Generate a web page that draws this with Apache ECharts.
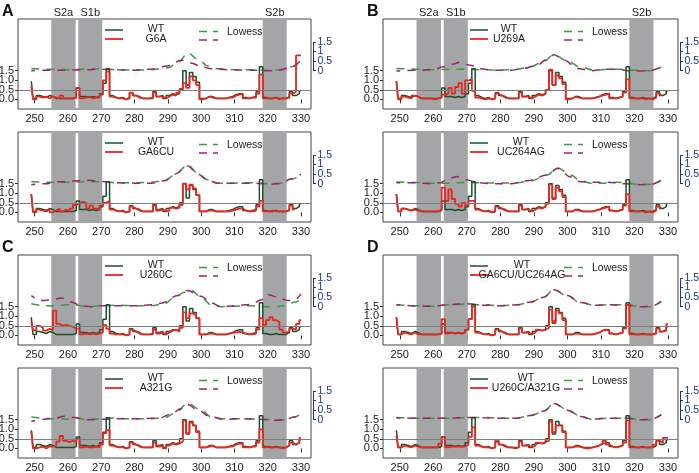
<!DOCTYPE html>
<html><head><meta charset="utf-8">
<script src="https://cdn.jsdelivr.net/npm/echarts@6/dist/echarts.min.js"></script>
<style>html,body{margin:0;padding:0;background:#fff}#c{width:699px;height:473px}</style>
</head><body><div id="c"></div>
<script>
// nucleotide positions start at 249 and run to 330 (one value per nucleotide)
const firstPos = 249;
const wt = [0.95,0.05,0.2,0.15,0.1,0.2,0.15,0.05,0.05,0.05,
  0.05,0.05,0.05,0.1,0.6,0.15,0.15,0.1,0.15,0.1,
  0.15,0.3,0.85,1.6,0.2,0.1,0.05,0.1,0.0,0.05,
  0.35,0.2,0.15,0.05,0.05,0.05,0.05,0.4,0.15,0.2,
  0.05,0.2,0.3,0.25,0.3,0.5,1.5,0.75,1.4,1.2,
  0.9,0.05,0.05,0.15,0.15,0.05,0.05,0.05,0.05,0.1,
  0.15,0.25,0.3,0.3,0.1,0.05,0.1,0.15,0.4,1.7,
  0.1,0.05,0.05,0.1,0.05,0.05,0.05,0.15,0.4,0.2,
  0.3,0.45];
const g6a = [0.7,0.0,0.15,0.1,0.15,0.05,0.15,0.1,0.05,0.2,
  0.05,0.05,0.05,0.1,0.6,0.05,0.1,0.15,0.05,0.1,
  0.1,0.25,1.0,1.45,0.15,0.1,0.05,0.05,0.0,0.1,
  0.35,0.2,0.1,0.05,0.05,0.05,0.1,0.35,0.15,0.15,
  0.05,0.15,0.25,0.2,0.35,0.55,0.85,0.6,1.2,1.0,
  0.75,0.0,0.05,0.15,0.1,0.05,0.05,0.05,0.05,0.1,
  0.1,0.2,0.25,0.3,0.05,0.05,0.1,0.1,0.3,1.3,
  0.05,0.05,0.05,0.1,0.0,0.05,0.05,0.1,0.3,0.4,
  2.3,2.3];
const ga6cu = [0.95,0.0,0.15,0.1,0.05,0.15,0.0,0.1,0.2,0.05,
  0.15,0.05,0.2,0.4,0.45,0.55,0.5,0.2,0.35,0.2,
  0.15,0.35,0.5,0.6,0.15,0.1,0.05,0.05,0.0,0.05,
  0.3,0.2,0.1,0.05,0.05,0.05,0.05,0.35,0.1,0.15,
  0.05,0.1,0.25,0.2,0.25,0.4,1.5,1.2,1.45,1.25,
  0.9,0.05,0.05,0.1,0.1,0.05,0.05,0.05,0.05,0.05,
  0.1,0.15,0.2,0.2,0.1,0.05,0.05,0.1,0.3,0.6,
  0.05,0.05,0.1,0.05,0.05,0.05,0.05,0.1,0.35,0.15,
  null,null];
const u269a = [0.95,0.0,0.15,0.1,0.05,0.2,0.15,0.05,0.05,0.05,
  0.05,0.0,0.05,0.1,0.25,0.3,0.6,0.3,0.65,0.85,
  0.3,1.0,1.05,0.45,0.1,0.05,0.0,0.05,0.0,0.05,
  0.3,0.2,0.1,0.05,0.05,0.05,0.05,0.35,0.15,0.15,
  0.05,0.15,0.25,0.2,0.3,0.5,1.55,0.75,1.25,1.1,
  0.8,0.0,0.05,0.15,0.1,0.05,0.05,0.05,0.05,0.1,
  0.15,0.2,0.25,0.3,0.05,0.05,0.1,0.15,0.35,1.05,
  0.05,0.05,0.05,0.05,0.0,0.05,0.0,0.1,0.3,0.2,
  null,null];
const uc264ag = [0.95,0.05,0.2,0.15,0.1,0.15,0.1,0.05,0.05,0.05,
  0.05,0.05,0.05,0.15,1.3,0.6,1.2,0.7,0.45,0.3,
  0.5,0.35,0.6,0.6,0.15,0.1,0.05,0.05,0.0,0.05,
  0.3,0.2,0.1,0.05,0.05,0.05,0.05,0.35,0.15,0.15,
  0.05,0.15,0.25,0.2,0.3,0.45,1.45,0.7,1.3,1.1,
  0.8,0.05,0.05,0.15,0.1,0.05,0.05,0.05,0.05,0.1,
  0.15,0.2,0.25,0.3,0.1,0.05,0.1,0.15,0.35,0.95,
  0.05,0.05,0.05,0.05,0.0,0.05,0.0,0.1,0.3,0.2,
  null,null];
const u260c = [0.7,0.27,0.5,0.4,0.25,0.35,0.27,1.3,0.6,0.5,
  0.55,0.5,0.45,0.35,0.35,0.05,0.1,0.05,0.1,0.05,
  0.1,0.15,0.55,0.35,0.1,0.05,0.05,0.05,0.0,0.05,
  0.3,0.2,0.1,0.05,0.05,0.05,0.1,0.3,0.1,0.15,
  0.05,0.15,0.25,0.3,0.2,0.4,1.2,0.9,1.15,1.05,
  0.9,0.05,0.05,0.1,0.1,0.05,0.05,0.05,0.05,0.1,
  0.15,0.15,0.2,0.15,0.1,0.05,0.05,0.1,0.3,0.9,
  0.55,0.8,0.95,0.8,0.7,0.3,0.15,0.2,0.35,0.3,
  0.6,0.8];
const a321g = [0.9,0.0,0.05,0.1,0.0,0.1,0.1,0.15,0.35,0.65,
  0.4,0.33,0.4,0.33,0.5,0.05,0.1,0.05,0.05,0.1,
  0.05,0.2,0.8,0.95,0.15,0.1,0.05,0.05,0.0,0.05,
  0.3,0.2,0.1,0.05,0.05,0.05,0.05,0.3,0.1,0.15,
  0.0,0.15,0.25,0.2,0.25,0.35,1.45,0.8,1.35,1.2,
  0.85,0.05,0.05,0.1,0.15,0.05,0.05,0.05,0.05,0.1,
  0.1,0.2,0.25,0.25,0.05,0.05,0.1,0.1,0.3,1.0,
  0.05,0.1,0.05,0.05,0.05,0.0,0.05,0.15,0.3,0.2,
  0.3,0.55];
const ga6cuUc264ag = [0.95,0.05,0.15,0.1,0.05,0.15,0.05,0.05,0.05,0.05,
  0.05,0.05,0.05,0.1,0.85,0.1,0.15,0.1,0.15,0.1,
  0.15,0.3,0.85,1.5,0.15,0.1,0.05,0.05,0.0,0.05,
  0.3,0.2,0.1,0.05,0.05,0.05,0.05,0.35,0.15,0.15,
  0.05,0.15,0.3,0.25,0.3,0.4,1.35,0.65,1.3,1.15,
  0.8,0.05,0.05,0.1,0.1,0.05,0.05,0.05,0.05,0.1,
  0.15,0.25,0.3,0.25,0.1,0.05,0.1,0.15,0.35,1.6,
  0.05,0.05,0.05,0.05,0.05,0.05,0.05,0.1,0.35,0.2,
  0.25,0.6];
const u260cA321g = [0.65,0.05,0.15,0.1,0.05,0.15,0.1,0.05,0.05,0.05,
  0.05,0.05,0.05,0.25,0.6,0.05,0.1,0.1,0.1,0.1,
  0.1,0.2,0.6,1.1,0.15,0.1,0.05,0.05,0.0,0.05,
  0.45,0.2,0.1,0.05,0.05,0.0,0.05,0.35,0.15,0.15,
  0.05,0.15,0.3,0.25,0.35,0.4,1.4,0.85,1.2,1.2,
  0.85,0.05,0.05,0.1,0.1,0.05,0.0,0.0,0.05,0.1,
  0.15,0.25,0.4,0.2,0.1,0.05,0.1,0.15,0.3,1.45,
  0.05,0.05,0.05,0.05,0.05,0.05,0.05,0.2,0.4,0.3,
  0.55,0.55];

// Lowess curves, [position, value on right axis]
const lowA1g = [[249,0.12],[255,0.07],[260,0.05],[265,0.08],[270,0.1],[275,0.05],[280,0.03],[285,0.05],[290,0.15],[293,0.4],[296,0.93],[299,0.6],[302,0.25],[305,0.1],[310,0.05],[315,0.05],[320,0.03],[324,0.05],[327,0.2],[330,0.45]];
const lowA1p = [[249,0.0],[255,0.03],[260,0.03],[265,0.05],[270,0.08],[275,0.05],[280,0.03],[285,0.08],[290,0.25],[294,0.55],[297,0.4],[300,0.22],[303,0.1],[308,0.05],[315,0.03],[320,0.0],[324,0.05],[327,0.2],[330,0.55]];
const lowA2g = [[249,0.1],[255,0.07],[260,0.08],[265,0.1],[270,0.1],[275,0.05],[280,0.05],[285,0.07],[289,0.15],[292,0.45],[296,0.97],[299,0.55],[302,0.2],[305,0.03],[310,0.03],[315,0.05],[320,0.0],[324,0.03],[327,0.25],[330,0.45]];
const lowA2p = [[249,-0.05],[253,0.0],[258,0.1],[263,0.15],[266,0.18],[270,0.12],[275,0.05],[280,0.03],[285,0.03],[289,0.15],[292,0.5],[296,0.93],[299,0.5],[302,0.18],[305,0.03],[310,0.03],[316,0.03],[321,-0.03],[324,0.02],[327,0.25],[330,0.5]];
const lowB1g = [[249,0.12],[255,0.08],[260,0.05],[265,0.07],[270,0.08],[275,0.05],[280,0.03],[285,0.08],[289,0.2],[293,0.5],[296,0.83],[300,0.5],[304,0.18],[308,0.03],[312,0.08],[316,0.07],[320,0.03],[325,0.0],[328,0.2]];
const lowB1p = [[249,-0.02],[255,0.02],[260,0.05],[263,0.2],[266,0.35],[268,0.45],[271,0.28],[274,0.1],[278,0.02],[283,0.02],[287,0.12],[291,0.3],[294,0.6],[296,0.83],[299,0.55],[303,0.12],[307,0.0],[311,0.07],[315,0.07],[318,0.0],[322,-0.02],[325,0.02],[328,0.2]];
const lowB2g = [[249,0.09],[255,0.06],[260,0.03],[265,0.03],[270,0.06],[275,0.05],[280,0.03],[285,0.05],[289,0.15],[294,0.45],[297,0.83],[301,0.45],[304,0.15],[307,0.03],[311,0.03],[315,0.08],[318,0.03],[322,-0.05],[325,-0.03],[328,0.18]];
const lowB2p = [[249,0.05],[255,0.05],[259,0.0],[262,0.05],[264,0.2],[267,0.38],[270,0.2],[273,0.05],[278,0.0],[283,0.0],[288,0.15],[294,0.45],[297,0.8],[301,0.35],[304,0.1],[308,0.08],[312,0.08],[317,0.0],[322,-0.05],[325,-0.03],[328,0.18]];
const lowC1g = [[249,0.15],[253,0.05],[256,0.05],[260,0.1],[263,0.08],[266,0.0],[270,0.05],[275,0.08],[280,0.05],[285,0.05],[289,0.15],[292,0.5],[295,0.75],[297,0.85],[300,0.5],[303,0.1],[306,0.0],[310,0.03],[315,0.05],[319,0.0],[322,0.0],[325,0.05],[328,0.23],[330,0.4]];
const lowC1p = [[249,0.58],[252,0.32],[255,0.35],[258,0.45],[261,0.25],[264,0.05],[267,0.0],[270,0.05],[275,0.05],[280,0.05],[285,0.1],[288,0.18],[293,0.58],[296,0.85],[300,0.55],[303,0.2],[306,0.0],[310,0.05],[315,0.12],[318,0.35],[320,0.63],[323,0.5],[326,0.32],[328,0.35],[330,0.67]];
const lowC2g = [[249,0.14],[253,0.07],[256,0.05],[260,0.02],[263,0.08],[266,0.0],[270,0.05],[273,0.09],[278,0.05],[285,0.05],[289,0.1],[292,0.32],[296,0.85],[300,0.5],[303,0.15],[306,0.05],[312,0.05],[318,0.03],[322,0.0],[325,0.0],[328,0.14],[330,0.3]];
const lowC2p = [[249,-0.09],[253,0.03],[256,0.07],[259,0.18],[262,0.12],[265,0.0],[270,0.02],[275,0.05],[280,0.05],[285,0.07],[288,0.12],[291,0.3],[294,0.58],[296,0.8],[299,0.5],[303,0.14],[307,0.02],[312,0.05],[318,0.02],[322,-0.03],[325,-0.02],[328,0.14],[330,0.32]];
const lowD1g = [[249,0.1],[255,0.05],[260,0.02],[265,0.1],[270,0.14],[275,0.1],[280,0.05],[285,0.1],[289,0.24],[293,0.5],[296,0.9],[300,0.55],[304,0.2],[308,0.08],[313,0.1],[318,0.1],[322,0.0],[325,0.0],[328,0.28]];
const lowD1p = [[249,0.1],[255,0.04],[260,0.02],[265,0.12],[270,0.15],[275,0.08],[280,0.05],[285,0.1],[289,0.24],[293,0.5],[296,0.88],[300,0.58],[304,0.22],[308,0.08],[313,0.1],[318,0.08],[322,0.0],[325,0.02],[328,0.28]];
const lowD2g = [[249,0.12],[255,0.08],[260,0.08],[265,0.08],[270,0.1],[275,0.12],[280,0.08],[285,0.08],[289,0.22],[293,0.43],[296,0.86],[300,0.52],[304,0.17],[307,0.03],[312,0.08],[318,0.08],[322,0.0],[325,0.0],[328,0.26]];
const lowD2p = [[249,0.1],[255,0.07],[260,0.07],[265,0.08],[270,0.12],[275,0.1],[280,0.08],[285,0.08],[289,0.22],[293,0.45],[296,0.85],[300,0.5],[304,0.17],[307,0.03],[312,0.08],[318,0.08],[322,0.0],[325,0.02],[328,0.26]];

const regionNames = ['S2a', 'S1b', 'S2b'];
const regionStart = [255.0, 263.1, 318.5];
const regionEnd = [262.3, 270.3, 325.7];
const xTickValues = [250, 260, 270, 280, 290, 300, 310, 320, 330];
const leftTickValues = [0, 0.5, 1, 1.5];
const leftTickLabels = ['0.0', '0.5', '1.0', '1.5'];
const rightTickValues = [0, 0.5, 1, 1.5];
const rightTickLabels = ['0', '0.5', '1', '1.5'];
const refLevel = 0.5;

// layout
const X_MIN = 245, X_MAX = 333, Y_MIN = -0.5, Y_MAX = 4.2, SHIFT = 1.5;
const H = 90;
const panels = [
  {letter:'A', name:'G6A', mut:g6a, lg:lowA1g, lp:lowA1p, left:18, top:19, w:293, s:true, cx:138},
  {letter:null, name:'GA6CU', mut:ga6cu, lg:lowA2g, lp:lowA2p, left:18, top:132, w:293, s:false, cx:138},
  {letter:'B', name:'U269A', mut:u269a, lg:lowB1g, lp:lowB1p, left:383, top:19, w:295, s:true, cx:126},
  {letter:null, name:'UC264AG', mut:uc264ag, lg:lowB2g, lp:lowB2p, left:383, top:132, w:295, s:false, cx:138},
  {letter:'C', name:'U260C', mut:u260c, lg:lowC1g, lp:lowC1p, left:18, top:255, w:293, s:false, cx:138},
  {letter:null, name:'A321G', mut:a321g, lg:lowC2g, lp:lowC2p, left:18, top:368, w:293, s:false, cx:138},
  {letter:'D', name:'GA6CU/UC264AG', mut:ga6cuUc264ag, lg:lowD1g, lp:lowD1p, left:383, top:255, w:295, s:false, cx:139},
  {letter:null, name:'U260C/A321G', mut:u260cA321g, lg:lowD2g, lp:lowD2p, left:383, top:368, w:295, s:false, cx:143}
];

const C_WT = '#1b4f2c', C_MUT = '#e8261e', C_LG = '#3b9a3b', C_LP = '#a3206f',
      C_GRAY = '#a4a5a7', C_BLUE = '#1e3489', C_TXT = '#1a1a1a';
const FONT = 'Liberation Sans';

function toPairs(arr) {
  const out = [];
  arr.forEach((v, i) => { if (v !== null) out.push([firstPos + i, v]); });
  return out;
}

const grid = [], xAxis = [], yAxis = [], series = [], title = [], graphic = [];
panels.forEach((p, i) => {
  const gMain = grid.length;
  grid.push({left:p.left, top:p.top, width:p.w, height:H, show:true, borderColor:'#444', borderWidth:1, backgroundColor:'transparent'});

  const xMain = xAxis.length;
  xAxis.push({gridIndex:gMain, type:'value', min:X_MIN, max:X_MAX, position:'bottom',
    axisLine:{show:false}, splitLine:{show:false},
    axisTick:{show:true, customValues:xTickValues, length:4, lineStyle:{color:'#333'}},
    axisLabel:{customValues:xTickValues, fontSize:11, color:C_TXT, fontFamily:FONT, margin:4, showMinLabel:true, showMaxLabel:true}});
  if (p.s) {
    const centers = regionStart.map((s, k) => (s + regionEnd[k]) / 2);
    xAxis.push({gridIndex:gMain, type:'value', min:X_MIN, max:X_MAX, position:'top',
      axisLine:{show:false}, splitLine:{show:false}, axisTick:{show:false},
      axisLabel:{customValues:centers, fontSize:11, color:C_TXT, fontFamily:FONT, margin:1, showMinLabel:true, showMaxLabel:true,
        formatter: v => { let b = 0; centers.forEach((c, k) => { if (Math.abs(c - v) < Math.abs(centers[b] - v)) b = k; }); return regionNames[b]; }}});
  }

  const yL = yAxis.length;
  yAxis.push({gridIndex:gMain, type:'value', min:Y_MIN, max:Y_MAX, position:'left',
    axisLine:{show:false}, splitLine:{show:false},
    axisTick:{show:true, customValues:leftTickValues, length:3, lineStyle:{color:'#333'}},
    axisLabel:{show:false}});
  const yR = yAxis.length;
  yAxis.push({gridIndex:gMain, type:'value', min:Y_MIN - SHIFT, max:Y_MAX - SHIFT, position:'right', offset:2,
    axisLine:{show:false}, splitLine:{show:false},
    axisTick:{show:true, customValues:rightTickValues, length:3, lineStyle:{color:C_BLUE}},
    axisLabel:{show:false}});

  series.push({type:'custom', xAxisIndex:xMain, yAxisIndex:yL, z:1, silent:true, clip:true,
    data: regionStart.map((s, k) => [s, regionEnd[k]]),
    renderItem: (params, api) => {
      const a = api.coord([api.value(0), 0]);
      const b = api.coord([api.value(1), 0]);
      const cs = params.coordSys;
      return {type:'rect', shape:{x:a[0], y:cs.y, width:b[0] - a[0], height:cs.height}, style:{fill:C_GRAY}};
    },
    markLine:{silent:true, symbol:'none', label:{show:false}, animation:false,
      lineStyle:{color:'#7d7d7d', width:1, type:'solid'}, data:[{yAxis:refLevel}]}
  });
  // left axis tick labels
  series.push({type:'custom', xAxisIndex:xMain, yAxisIndex:yL, z:5, silent:true, clip:false,
    data: leftTickValues.map((v, k) => [X_MIN, v, k]),
    renderItem: (params, api) => {
      const pt = api.coord([api.value(0), api.value(1)]);
      return {type:'text', x:pt[0] - 4, y:pt[1],
        style:{text:leftTickLabels[api.value(2)], align:'right', verticalAlign:'middle', textAlign:'right', textVerticalAlign:'middle',
          fontSize:11, fontFamily:FONT, fill:C_TXT}};
    }
  });
  // right axis spine (labelled range only) and tick labels
  series.push({type:'custom', xAxisIndex:xMain, yAxisIndex:yR, z:5, silent:true, clip:false,
    data: rightTickValues.map((v, k) => [X_MAX, v, k]),
    renderItem: (params, api) => {
      const pt = api.coord([api.value(0), api.value(1)]);
      const k = api.value(2);
      const children = [{type:'text', x:pt[0] + 6.5, y:pt[1],
        style:{text:rightTickLabels[k], align:'left', verticalAlign:'middle', textAlign:'left', textVerticalAlign:'middle',
          fontSize:10.5, fontFamily:FONT, fill:C_BLUE}}];
      if (k > 0) {
        const prev = api.coord([X_MAX, rightTickValues[k - 1]]);
        children.push({type:'line', shape:{x1:pt[0] + 2.5, y1:prev[1], x2:pt[0] + 2.5, y2:pt[1]}, style:{stroke:C_BLUE, lineWidth:1}});
      }
      return {type:'group', children};
    }
  });
  series.push({type:'line', xAxisIndex:xMain, yAxisIndex:yR, z:2, data:p.lg, showSymbol:false, smooth:0.35, smoothMonotone:'x',
    lineStyle:{color:C_LG, width:1.5, type:[8,7]}, silent:true});
  series.push({type:'line', xAxisIndex:xMain, yAxisIndex:yR, z:2, data:p.lp, showSymbol:false, smooth:0.35, smoothMonotone:'x',
    lineStyle:{color:C_LP, width:1.5, type:[8,7], dashOffset:4}, silent:true});
  series.push({type:'line', xAxisIndex:xMain, yAxisIndex:yL, z:3, data:toPairs(wt), step:'middle', showSymbol:false,
    lineStyle:{color:C_WT, width:1.5}, silent:true});
  series.push({type:'line', xAxisIndex:xMain, yAxisIndex:yL, z:4, data:toPairs(p.mut), step:'middle', showSymbol:false,
    lineStyle:{color:C_MUT, width:1.8}, silent:true});

  if (p.letter) {
    title.push({text:p.letter, left:p.left - 16, top:p.top - 15, padding:0,
      textStyle:{fontSize:16, fontWeight:'bold', color:'#111', fontFamily:FONT}});
  }
  // legend drawn inside the panel
  const L = p.left, T = p.top;
  graphic.push(
    {type:'line', shape:{x1:L + 87, y1:T + 11, x2:L + 105, y2:T + 11}, style:{stroke:C_WT, lineWidth:1.5}},
    {type:'line', shape:{x1:L + 87, y1:T + 20, x2:L + 105, y2:T + 20}, style:{stroke:C_MUT, lineWidth:1.8}},
    {type:'text', x:L + p.cx, y:T + 10, style:{text:'WT', textAlign:'center', textVerticalAlign:'middle', fontSize:10.5, fontFamily:FONT, fill:C_TXT}},
    {type:'text', x:L + p.cx, y:T + 20, style:{text:p.name, textAlign:'center', textVerticalAlign:'middle', fontSize:10.5, fontFamily:FONT, fill:C_TXT}},
    {type:'line', shape:{x1:L + 181, y1:T + 12.5, x2:L + 200, y2:T + 12.5}, style:{stroke:C_LG, lineWidth:1.5, lineDash:[8,6]}},
    {type:'line', shape:{x1:L + 181, y1:T + 21, x2:L + 200, y2:T + 21}, style:{stroke:C_LP, lineWidth:1.5, lineDash:[8,6]}},
    {type:'text', x:L + 209, y:T + 13.5, style:{text:'Lowess', textAlign:'left', textVerticalAlign:'middle', fontSize:10.5, fontFamily:FONT, fill:C_TXT}}
  );
});

const chart = echarts.init(document.getElementById('c'), null, {renderer:'canvas'});
chart.setOption({animation:false, backgroundColor:'#fff', title, grid, xAxis, yAxis, series, graphic});
</script>
</body></html>
